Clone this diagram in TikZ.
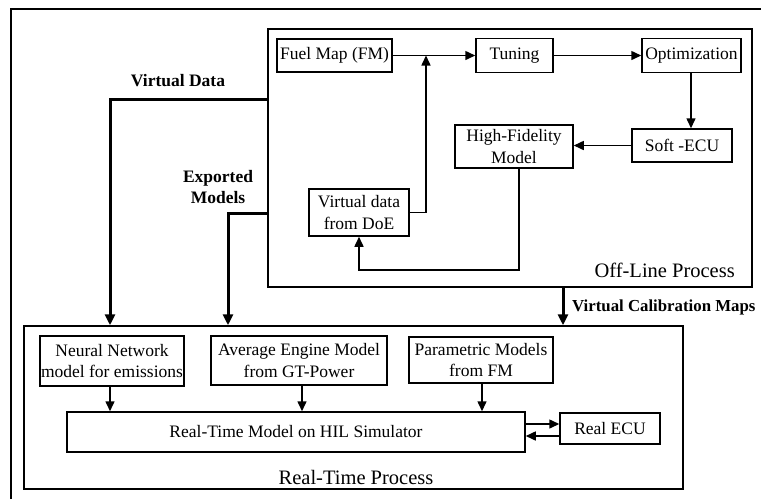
\documentclass[tikz,border=0pt]{standalone}
\usepackage{fontspec}
\setmainfont{Liberation Serif}
\usetikzlibrary{arrows.meta}
\begin{document}
\begin{tikzpicture}[x=1pt,y=-1pt,
  box/.style={draw, line width=1.5pt, inner sep=0pt, align=center, font=\fontsize{17.5}{21.5}\selectfont},
  frame/.style={draw, line width=1.5pt, inner sep=0pt},
  thin/.style={line width=1.5pt, -{Triangle[length=10pt,width=9pt]}},
  thick/.style={line width=3pt, -{Triangle[length=11pt,width=10pt]}},
  lab/.style={font=\bfseries\fontsize{17.5}{21}\selectfont, align=center, inner sep=0pt},
  big/.style={font=\fontsize{20.5}{24}\selectfont, inner sep=0pt}]
\useasboundingbox (0,0) rectangle (761,499);
\fill[white] (0,0) rectangle (761,499);
% outer frame (clipped by the page)
\draw[line width=1.5pt] (11,499) -- (11,9) -- (761,9);
% process frames
\node[frame, minimum width=484pt, minimum height=258pt] (off) at (510,158) {};
\node[frame, minimum width=659pt, minimum height=163pt] (rt) at (353.5,407.5) {};
% off-line nodes
\node[box, minimum width=115pt, minimum height=33pt] (fm) at (334.5,55.5) {Fuel Map (FM)};
\node[box, minimum width=77pt, minimum height=34pt] (tun) at (514.5,55.5) {Tuning};
\node[box, minimum width=99pt, minimum height=34pt] (opt) at (691.5,55.5) {Optimization};
\node[box, minimum width=100pt, minimum height=33pt] (secu) at (682,145.5) {Soft -ECU};
\node[box, minimum width=118pt, minimum height=43pt] (hf) at (514,146.5) {High-Fidelity\\Model};
\node[box, minimum width=100pt, minimum height=47pt] (doe) at (359,212.5) {Virtual data\\from DoE};
\node[big, anchor=east] (offlab) at (735,270) {Off-Line Process};
% real-time nodes
\node[box, minimum width=144pt, minimum height=50pt] (nn) at (112,361) {Neural Network\\model for emissions};
\node[box, minimum width=176pt, minimum height=49pt] (aem) at (299,360.5) {Average Engine Model\\from GT-Power};
\node[box, minimum width=144pt, minimum height=46pt] (pm) at (481,360) {Parametric Models\\from FM};
\node[box, minimum width=458pt, minimum height=40pt] (rtm) at (296,432) {Real-Time Model on HIL Simulator};
\node[box, minimum width=100pt, minimum height=31pt] (recu) at (610,428.5) {Real ECU};
\node[big] (rtlab) at (356,477) {Real-Time Process};
% labels
\node[lab] (vdlab) at (178,81) {Virtual Data};
\node[lab] (emlab) at (218,187) {Exported\\Models};
\node[lab, anchor=west, font=\bfseries\fontsize{16.8}{21}\selectfont] (vcmlab) at (572,307) {Virtual Calibration Maps};
% coordinates
\coordinate (j) at (426,55.5);
\coordinate (vd) at (268,99);
\coordinate (vdc) at (110,99);
\coordinate (em) at (268,213);
\coordinate (emc) at (228,213);
\coordinate (vcm) at (563,287);
% off-line connectors
\draw[thin] (fm.east) -- (tun.west);
\draw[thin] (doe.east) -| (j);
\draw[thin] (tun.east) -- (opt.west);
\draw[thin] ([xshift=-0.5pt]opt.south) -- ([xshift=-0.5pt]opt.south |- secu.north);
\draw[thin] (secu.west) -- (secu.west -| hf.east);
\draw[thin] ([xshift=5pt]hf.south) -- ++(0,101) -| (doe.south);
% thick connectors
\draw[thick] (vd) -- (vdc) -- (vdc |- rt.north);
\draw[thick] (em) -- (emc) -- (emc |- rt.north);
\draw[thick] (vcm) -- (vcm |- rt.north);
% real-time connectors
\draw[thin] ([xshift=-2pt]nn.south) -- ([xshift=-2pt]nn.south |- rtm.north);
\draw[thin] ([xshift=3pt]aem.south) -- ([xshift=3pt]aem.south |- rtm.north);
\draw[thin] ([xshift=1pt]pm.south) -- ([xshift=1pt]pm.south |- rtm.north);
\draw[thin] ([yshift=8pt]rtm.east) -- ([yshift=8pt]rtm.east -| recu.west);
\draw[thin] ([yshift=-4pt]rtm.east -| recu.west) -- ([yshift=-4pt]rtm.east);
\end{tikzpicture}
\end{document}
